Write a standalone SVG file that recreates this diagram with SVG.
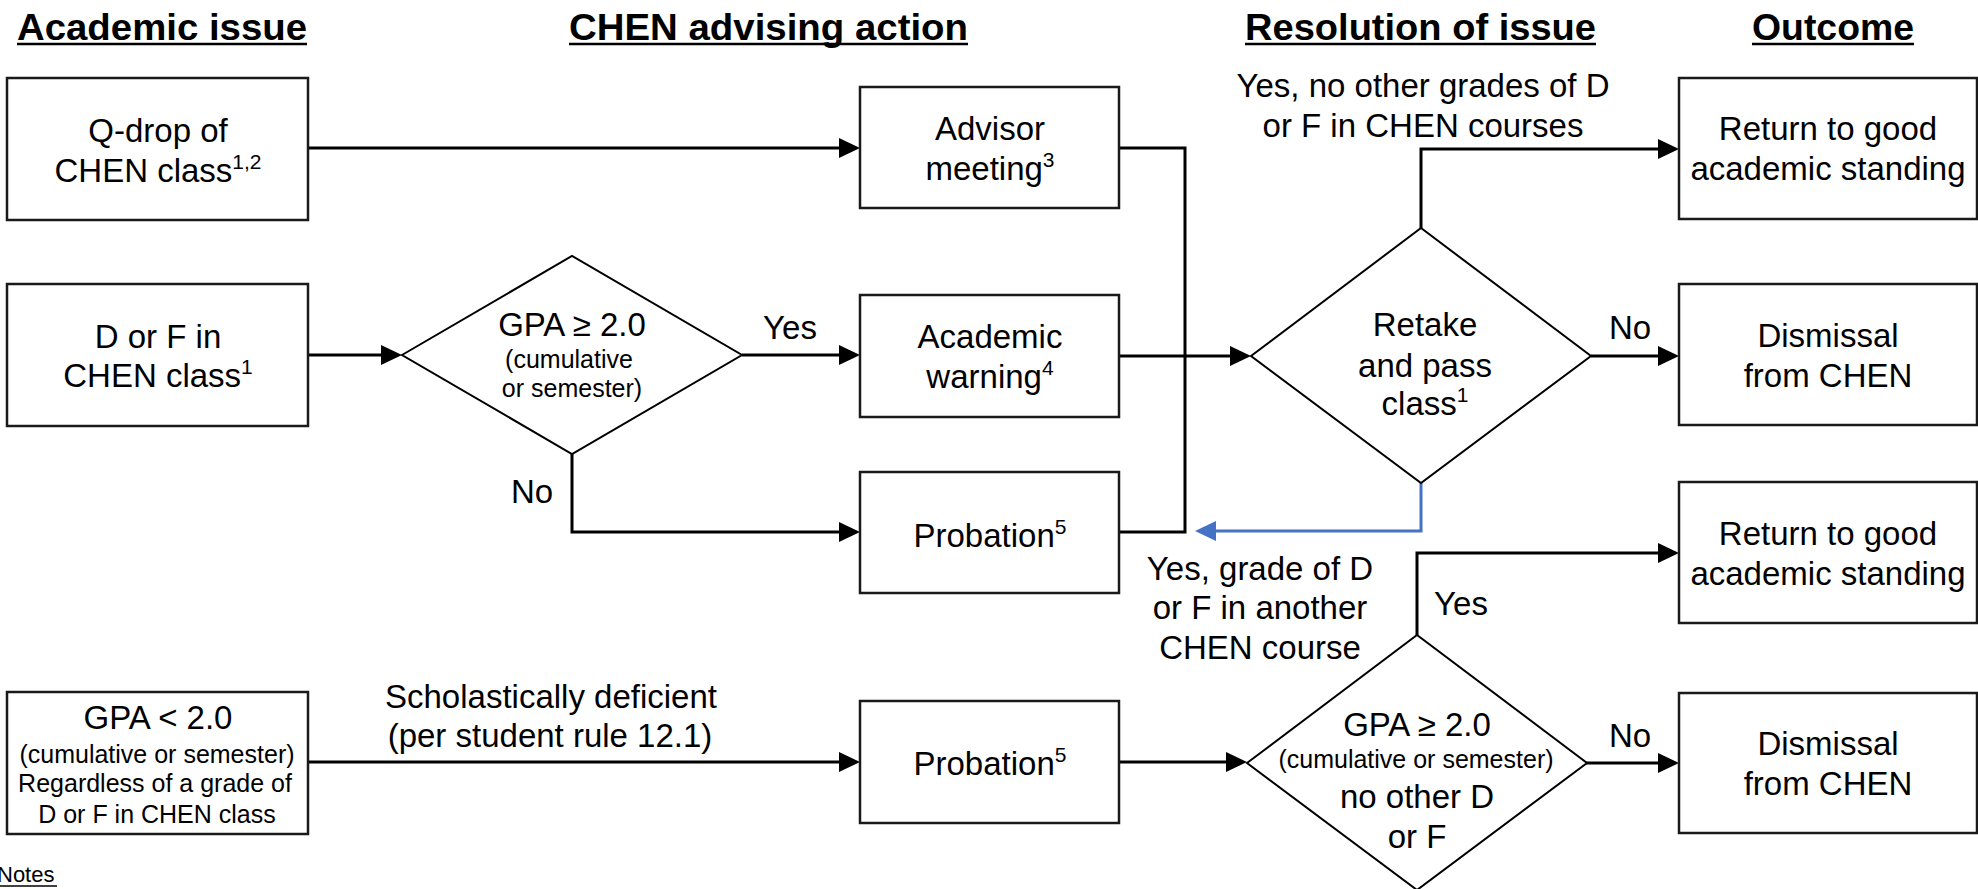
<svg xmlns="http://www.w3.org/2000/svg" width="1978" height="889" viewBox="0 0 1978 889">
<defs>
<style>
.box{fill:#fff;stroke:#1a1a1a;stroke-width:2.5}
.dia{fill:#fff;stroke:#000;stroke-width:2}
.t{font-family:"Liberation Sans",Arial,sans-serif;font-size:33px;fill:#000;text-anchor:middle}
.s{font-family:"Liberation Sans",Arial,sans-serif;font-size:25px;fill:#000;text-anchor:middle}
.h{font-family:"Liberation Sans",Arial,sans-serif;font-size:36px;font-weight:bold;fill:#000}
.sup{font-size:21px}
.c{fill:none;stroke:#000;stroke-width:3;marker-end:url(#ah)}
.cb{fill:none;stroke:#4472C4;stroke-width:3;marker-end:url(#ahb)}
.ul{stroke:#000;stroke-width:2.5}
</style>
<marker id="ah" viewBox="0 0 21 20" refX="2" refY="10" markerWidth="21" markerHeight="20" markerUnits="userSpaceOnUse" orient="auto"><path d="M0,0 L21,10 L0,20 z" fill="#000"/></marker>
<marker id="ahb" viewBox="0 0 21 20" refX="2" refY="10" markerWidth="21" markerHeight="20" markerUnits="userSpaceOnUse" orient="auto"><path d="M0,0 L21,10 L0,20 z" fill="#4472C4"/></marker>
</defs>
<rect width="1978" height="889" fill="#fff"/>

<g id="titles">
<text class="h" x="17" y="40" textLength="290" lengthAdjust="spacingAndGlyphs">Academic issue</text>
<line class="ul" x1="17" y1="44" x2="307" y2="44"/>
<text class="h" x="569" y="40" textLength="399" lengthAdjust="spacingAndGlyphs">CHEN advising action</text>
<line class="ul" x1="569" y1="44" x2="968" y2="44"/>
<text class="h" x="1245" y="40" textLength="351" lengthAdjust="spacingAndGlyphs">Resolution of issue</text>
<line class="ul" x1="1245" y1="44" x2="1596" y2="44"/>
<text class="h" x="1752" y="40" textLength="162" lengthAdjust="spacingAndGlyphs">Outcome</text>
<line class="ul" x1="1752" y1="44" x2="1914" y2="44"/>
</g>

<g id="connectors">
<path class="c" d="M308,148 H841"/>
<path class="c" d="M308,355 H383"/>
<path class="c" d="M742,355 H841"/>
<path class="c" d="M572,454 V532 H841"/>
<path fill="none" stroke="#000" stroke-width="3" d="M1119,148 H1185 V532 H1119"/>
<path class="c" d="M1119,356 H1232"/>
<path class="c" d="M1421,228 V149 H1660"/>
<path class="c" d="M1591,356 H1660"/>
<path class="cb" d="M1421,483 V531 H1214"/>
<path class="c" d="M308,762 H841"/>
<path class="c" d="M1119,762 H1228"/>
<path class="c" d="M1417,635 V553 H1660"/>
<path class="c" d="M1586,763 H1660"/>
</g>

<g id="labels">
<text class="t" x="790" y="339">Yes</text>
<text class="t" x="532" y="503">No</text>
<text class="t" x="1423" y="97">Yes, no other grades of D</text>
<text class="t" x="1423" y="137">or F in CHEN courses</text>
<text class="t" x="1630" y="339">No</text>
<text class="t" x="1260" y="580">Yes, grade of D</text>
<text class="t" x="1260" y="619">or F in another</text>
<text class="t" x="1260" y="659">CHEN course</text>
<text class="t" x="1461" y="615">Yes</text>
<text class="t" x="1630" y="747">No</text>
<text class="t" x="551" y="708">Scholastically deficient</text>
<text class="t" x="550" y="747">(per student rule 12.1)</text>
</g>

<g id="n-qdrop">
<rect class="box" x="7" y="78" width="301" height="142"/>
<text class="t" x="158" y="142">Q-drop of</text>
<text class="t" x="158" y="182">CHEN class<tspan class="sup" dy="-13">1,2</tspan></text>
</g>
<g id="n-dorf">
<rect class="box" x="7" y="284" width="301" height="142"/>
<text class="t" x="158" y="348">D or F in</text>
<text class="t" x="158" y="387">CHEN class<tspan class="sup" dy="-13">1</tspan></text>
</g>
<g id="n-gpalow">
<rect class="box" x="7" y="692" width="301" height="142"/>
<text class="t" x="158" y="729">GPA &lt; 2.0</text>
<text class="s" x="157" y="763">(cumulative or semester)</text>
<text class="s" x="155" y="792">Regardless of a grade of</text>
<text class="s" x="157" y="823">D or F in CHEN class</text>
</g>
<g id="n-gpa1">
<polygon class="dia" points="402,355 572,256 742,355 572,454"/>
<text class="t" x="572" y="336">GPA ≥ 2.0</text>
<text class="s" x="569" y="368">(cumulative</text>
<text class="s" x="572" y="397">or semester)</text>
</g>
<g id="n-advisor">
<rect class="box" x="860" y="87" width="259" height="121"/>
<text class="t" x="990" y="140">Advisor</text>
<text class="t" x="990" y="180">meeting<tspan class="sup" dy="-13">3</tspan></text>
</g>
<g id="n-warning">
<rect class="box" x="860" y="295" width="259" height="122"/>
<text class="t" x="990" y="348">Academic</text>
<text class="t" x="990" y="388">warning<tspan class="sup" dy="-13">4</tspan></text>
</g>
<g id="n-probation1">
<rect class="box" x="860" y="472" width="259" height="121"/>
<text class="t" x="990" y="547">Probation<tspan class="sup" dy="-13">5</tspan></text>
</g>
<g id="n-probation2">
<rect class="box" x="860" y="701" width="259" height="122"/>
<text class="t" x="990" y="775">Probation<tspan class="sup" dy="-13">5</tspan></text>
</g>
<g id="n-retake">
<polygon class="dia" points="1251,356 1421,228 1591,356 1421,483"/>
<text class="t" x="1425" y="336">Retake</text>
<text class="t" x="1425" y="377">and pass</text>
<text class="t" x="1425" y="415">class<tspan class="sup" dy="-13">1</tspan></text>
</g>
<g id="n-gpa2">
<polygon class="dia" points="1247,763 1417,635 1587,763 1417,890"/>
<text class="t" x="1417" y="736">GPA ≥ 2.0</text>
<text class="s" x="1416" y="768">(cumulative or semester)</text>
<text class="t" x="1417" y="808">no other D</text>
<text class="t" x="1417" y="848">or F</text>
</g>
<g id="n-return1">
<rect class="box" x="1679" y="78" width="298" height="141"/>
<text class="t" x="1828" y="140">Return to good</text>
<text class="t" x="1828" y="180">academic standing</text>
</g>
<g id="n-dismiss1">
<rect class="box" x="1679" y="284" width="298" height="141"/>
<text class="t" x="1828" y="347">Dismissal</text>
<text class="t" x="1828" y="387">from CHEN</text>
</g>
<g id="n-return2">
<rect class="box" x="1679" y="482" width="298" height="141"/>
<text class="t" x="1828" y="545">Return to good</text>
<text class="t" x="1828" y="585">academic standing</text>
</g>
<g id="n-dismiss2">
<rect class="box" x="1679" y="693" width="298" height="140"/>
<text class="t" x="1828" y="755">Dismissal</text>
<text class="t" x="1828" y="795">from CHEN</text>
</g>

<g id="notes">
<text x="-3" y="882" font-family="Liberation Sans, Arial, sans-serif" font-size="22">Notes</text>
<line x1="0" y1="886" x2="57" y2="886" stroke="#000" stroke-width="1.5"/>
</g>
</svg>
